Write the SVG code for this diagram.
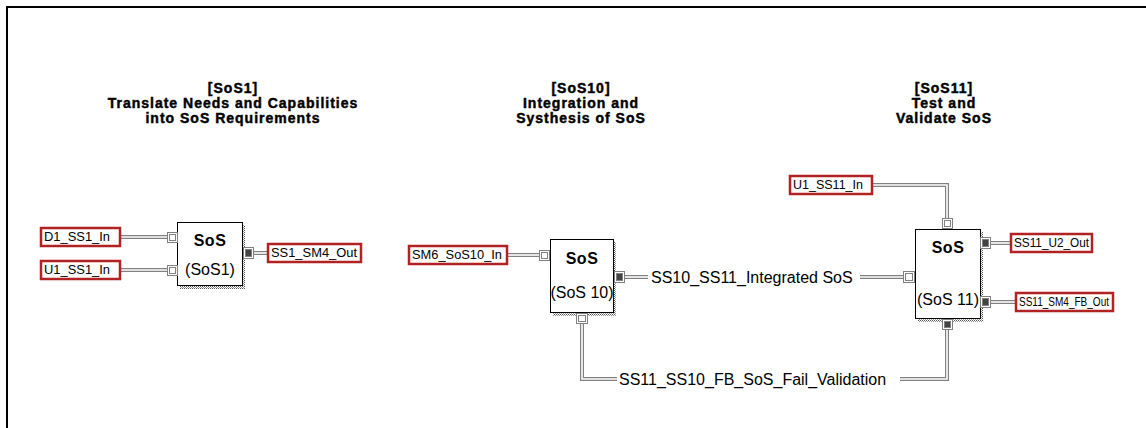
<svg xmlns="http://www.w3.org/2000/svg" width="1146" height="428" viewBox="0 0 1146 428">
<defs>
<pattern id="dots" width="2" height="2" patternUnits="userSpaceOnUse">
<rect x="0" y="0" width="1" height="1" fill="#555"/>
<rect x="1" y="1" width="1" height="1" fill="#999"/>
</pattern>
<style>
.title{font-family:"Liberation Sans",Arial,sans-serif;font-weight:bold;font-size:14px;letter-spacing:1px;text-anchor:middle;fill:#000;stroke:#000;stroke-width:0.45}
.box{fill:#fff;stroke:#000;stroke-width:1}
.shadow{fill:url(#dots)}
.nt{font-family:"Liberation Sans",Arial,sans-serif;font-weight:bold;font-size:16px;text-anchor:middle;fill:#000;letter-spacing:0.5px}
.ns{font-family:"Liberation Sans",Arial,sans-serif;font-size:16px;text-anchor:middle;fill:#000}
.lab{fill:#fff;stroke:#b22222;stroke-width:2.5}
.lt{font-family:"Liberation Sans",Arial,sans-serif;font-size:12px;fill:#000}
.cl{font-family:"Liberation Sans",Arial,sans-serif;font-size:16px;fill:#000}
.po{fill:none;stroke:#808080;stroke-width:4}
.pi{fill:none;stroke:#fff;stroke-width:1.6}
.port{fill:#fff;stroke:#808080;stroke-width:1}
.pin{fill:none;stroke:#808080;stroke-width:1}
.pout{fill:#444;stroke:#808080;stroke-width:1}
</style>
</defs>
<rect width="1146" height="428" fill="#fff"/>
<rect x="7" y="7" width="1150" height="430" fill="none" stroke="#000" stroke-width="2"/>

<g id="titles">
<text class="title" x="233" y="93">[SoS1]</text>
<text class="title" x="233" y="108">Translate Needs and Capabilities</text>
<text class="title" x="233" y="123">into SoS Requirements</text>
<text class="title" x="581" y="93">[SoS10]</text>
<text class="title" x="581" y="108">Integration and</text>
<text class="title" x="581" y="123">Systhesis of SoS</text>
<text class="title" x="944" y="93">[SoS11]</text>
<text class="title" x="944" y="108">Test and</text>
<text class="title" x="944" y="123">Validate SoS</text>
</g>

<g id="connectors">
<path class="po" d="M120,237 H167"/><path class="pi" d="M120,237 H167"/>
<path class="po" d="M120,270 H167"/><path class="pi" d="M120,270 H167"/>
<path class="po" d="M253,253 H268"/><path class="pi" d="M253,253 H268"/>
<path class="po" d="M507,255 H539"/><path class="pi" d="M507,255 H539"/>
<path class="po" d="M624,277 H648"/><path class="pi" d="M624,277 H648"/>
<path class="po" d="M860,277 H903"/><path class="pi" d="M860,277 H903"/>
<path class="po" d="M872,185 H947 V218"/><path class="pi" d="M872,185 H947 V218"/>
<path class="po" d="M990,243 H1011"/><path class="pi" d="M990,243 H1011"/>
<path class="po" d="M990,302 H1016"/><path class="pi" d="M990,302 H1016"/>
<path class="po" d="M947,329 V379 H900"/><path class="pi" d="M947,329 V379 H900"/>
<path class="po" d="M617,379 H582 V324"/><path class="pi" d="M617,379 H582 V324"/>
<text class="cl" x="651" y="283">SS10_SS11_Integrated SoS</text>
<text class="cl" x="619" y="385">SS11_SS10_FB_SoS_Fail_Validation</text>
</g>

<g id="node-sos1">
<rect class="shadow" x="180" y="225" width="65" height="64"/>
<rect class="box" x="177.5" y="222.5" width="65" height="63"/>
<text class="nt" x="210" y="246">SoS</text>
<text class="ns" x="210" y="275">(SoS1)</text>
<rect class="port" x="167.5" y="232.5" width="10" height="10"/><rect class="pin" x="169.5" y="234.5" width="6" height="6"/>
<rect class="port" x="167.5" y="265.5" width="10" height="10"/><rect class="pin" x="169.5" y="267.5" width="6" height="6"/>
<rect class="port" x="243.5" y="247.5" width="10" height="11"/><rect class="pout" x="245.5" y="249.5" width="6" height="7"/>
</g>

<g id="label-d1">
<rect class="lab" x="41" y="228" width="79" height="18"/>
<text class="lt" x="44" y="241" textLength="66" lengthAdjust="spacingAndGlyphs">D1_SS1_In</text>
</g>
<g id="label-u1">
<rect class="lab" x="41" y="261" width="79" height="18"/>
<text class="lt" x="44" y="274" textLength="66" lengthAdjust="spacingAndGlyphs">U1_SS1_In</text>
</g>
<g id="label-ss1sm4">
<rect class="lab" x="268" y="244" width="93" height="18"/>
<text class="lt" x="271" y="257" textLength="86" lengthAdjust="spacingAndGlyphs">SS1_SM4_Out</text>
</g>

<g id="node-sos10">
<rect class="shadow" x="553" y="242" width="63" height="74"/>
<rect class="box" x="550.5" y="239.5" width="63" height="73"/>
<text class="nt" x="582" y="264">SoS</text>
<text class="ns" x="582" y="298">(SoS 10)</text>
<rect class="port" x="539.5" y="250.5" width="10" height="10"/><rect class="pin" x="541.5" y="252.5" width="6" height="6"/>
<rect class="port" x="614.5" y="271.5" width="10" height="11"/><rect class="pout" x="616.5" y="273.5" width="6" height="7"/>
<rect class="port" x="576.5" y="313.5" width="11" height="10"/><rect class="pin" x="578.5" y="315.5" width="7" height="6"/>
</g>
<g id="label-sm6">
<rect class="lab" x="409" y="246" width="98" height="18"/>
<text class="lt" x="412" y="259" textLength="90" lengthAdjust="spacingAndGlyphs">SM6_SoS10_In</text>
</g>

<g id="node-sos11">
<rect class="shadow" x="918" y="232" width="65" height="90"/>
<rect class="box" x="915.5" y="229.5" width="65" height="89"/>
<text class="nt" x="948" y="253">SoS</text>
<text class="ns" x="948" y="305">(SoS 11)</text>
<rect class="port" x="942.5" y="218.5" width="10" height="10"/><rect class="pin" x="944.5" y="220.5" width="6" height="6"/>
<rect class="port" x="903.5" y="271.5" width="11" height="11"/><rect class="pin" x="905.5" y="273.5" width="7" height="7"/>
<rect class="port" x="980.5" y="237.5" width="10" height="11"/><rect class="pout" x="982.5" y="239.5" width="6" height="7"/>
<rect class="port" x="980.5" y="296.5" width="10" height="11"/><rect class="pout" x="982.5" y="298.5" width="6" height="7"/>
<rect class="port" x="942.5" y="319.5" width="10" height="10"/><rect class="pout" x="944.5" y="321.5" width="6" height="6"/>
</g>
<g id="label-u1ss11">
<rect class="lab" x="790" y="176" width="82" height="18"/>
<text class="lt" x="793" y="189" textLength="70" lengthAdjust="spacingAndGlyphs">U1_SS11_In</text>
</g>
<g id="label-ss11u2">
<rect class="lab" x="1011" y="234" width="81" height="18"/>
<text class="lt" x="1014" y="247" textLength="75" lengthAdjust="spacingAndGlyphs">SS11_U2_Out</text>
</g>
<g id="label-ss11sm4">
<rect class="lab" x="1016" y="293" width="97" height="18"/>
<text class="lt" x="1019" y="306" textLength="90" lengthAdjust="spacingAndGlyphs">SS11_SM4_FB_Out</text>
</g>
</svg>
